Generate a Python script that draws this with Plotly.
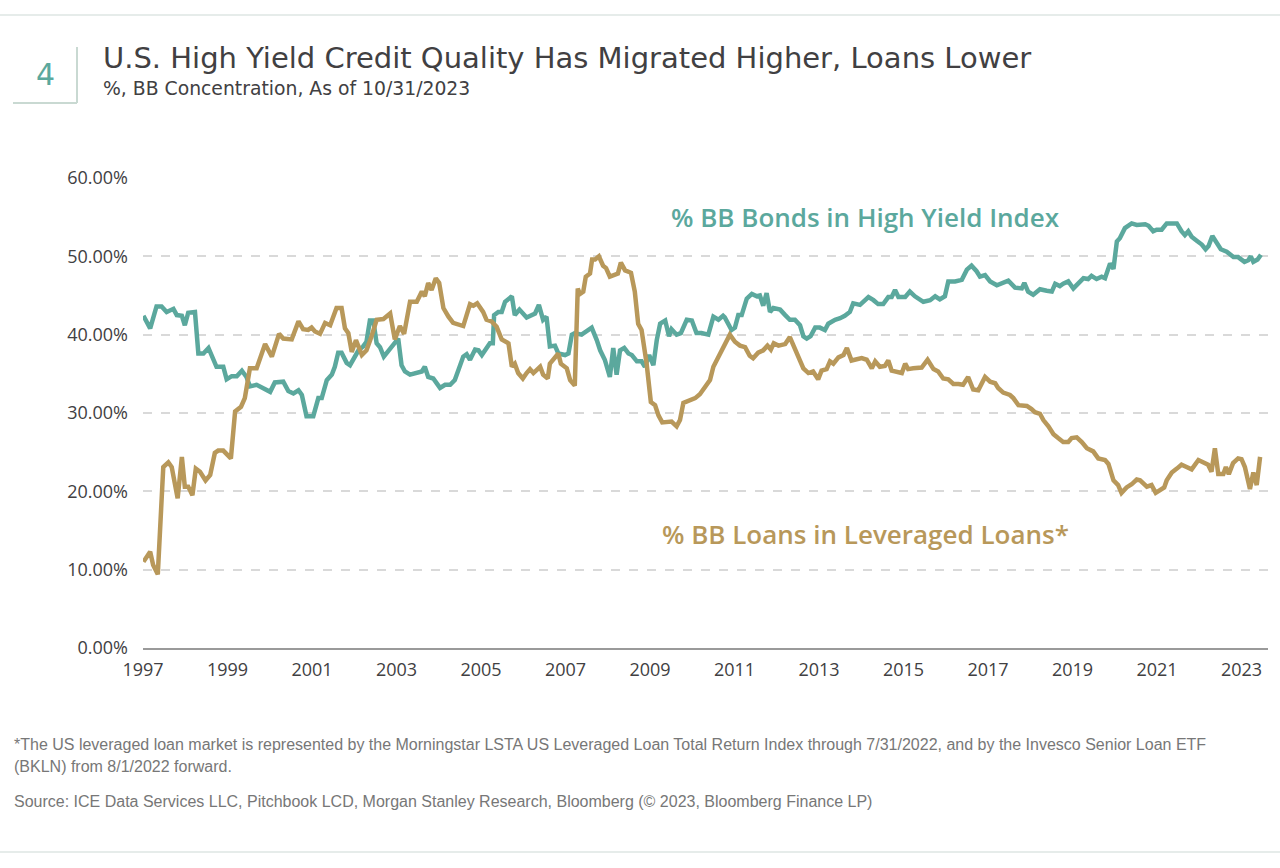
import plotly.graph_objects as go

# ---------------- data ----------------
hy_bb_years = [1997.01, 1997.17, 1997.32, 1997.44, 1997.56, 1997.72, 1997.80, 1997.92, 1997.99, 1998.07,
               1998.23, 1998.31, 1998.43, 1998.55, 1998.74, 1998.90, 1998.98, 1999.10, 1999.22, 1999.34,
               1999.45, 1999.53, 1999.69, 1999.85, 2000.01, 2000.12, 2000.32, 2000.44, 2000.56, 2000.68,
               2000.76, 2000.87, 2001.03, 2001.15, 2001.23, 2001.35, 2001.47, 2001.54, 2001.62, 2001.70,
               2001.82, 2001.90, 2002.02, 2002.10, 2002.21, 2002.29, 2002.37, 2002.45, 2002.53, 2002.61,
               2002.70, 2002.81, 2002.96, 2003.04, 2003.12, 2003.20, 2003.32, 2003.48, 2003.60, 2003.67,
               2003.75, 2003.87, 2004.03, 2004.15, 2004.27, 2004.38, 2004.50, 2004.58, 2004.66, 2004.74,
               2004.86, 2004.94, 2005.02, 2005.13, 2005.21, 2005.28, 2005.31, 2005.41, 2005.49, 2005.57,
               2005.73, 2005.80, 2005.91, 2006.08, 2006.16, 2006.28, 2006.37, 2006.47, 2006.55, 2006.63,
               2006.75, 2006.83, 2006.99, 2007.07, 2007.15, 2007.22, 2007.38, 2007.50, 2007.62, 2007.74,
               2007.82, 2007.93, 2008.05, 2008.13, 2008.21, 2008.29, 2008.39, 2008.49, 2008.57, 2008.69,
               2008.80, 2008.88, 2008.98, 2009.08, 2009.16, 2009.24, 2009.36, 2009.45, 2009.51, 2009.63,
               2009.73, 2009.87, 2009.99, 2010.10, 2010.22, 2010.38, 2010.50, 2010.62, 2010.73, 2010.77,
               2010.93, 2011.01, 2011.09, 2011.17, 2011.29, 2011.41, 2011.53, 2011.60, 2011.68, 2011.76,
               2011.84, 2011.92, 2012.08, 2012.20, 2012.31, 2012.43, 2012.55, 2012.63, 2012.71, 2012.80,
               2012.91, 2013.02, 2013.14, 2013.22, 2013.38, 2013.50, 2013.61, 2013.73, 2013.81, 2013.97,
               2014.17, 2014.29, 2014.40, 2014.52, 2014.64, 2014.72, 2014.80, 2014.88, 2015.04, 2015.15,
               2015.27, 2015.47, 2015.63, 2015.75, 2015.86, 2015.98, 2016.06, 2016.22, 2016.38, 2016.50,
               2016.61, 2016.73, 2016.81, 2016.93, 2017.05, 2017.21, 2017.32, 2017.48, 2017.64, 2017.80,
               2017.86, 2017.95, 2018.07, 2018.23, 2018.39, 2018.51, 2018.59, 2018.70, 2018.78, 2018.90,
               2019.02, 2019.14, 2019.26, 2019.37, 2019.45, 2019.57, 2019.69, 2019.77, 2019.89, 2019.97,
               2020.05, 2020.12, 2020.24, 2020.40, 2020.52, 2020.72, 2020.80, 2020.91, 2020.99, 2021.11,
               2021.23, 2021.35, 2021.47, 2021.58, 2021.66, 2021.74, 2021.82, 2021.94, 2022.06, 2022.15,
               2022.22, 2022.31, 2022.39, 2022.51, 2022.65, 2022.81, 2022.92, 2023.07, 2023.16, 2023.22,
               2023.28, 2023.38, 2023.46]
hy_bb_pct = [42.4, 40.8, 43.6, 43.6, 42.9, 43.3, 42.5, 42.4, 41.2, 42.8,
             42.9, 37.6, 37.6, 38.3, 35.9, 35.9, 34.3, 34.7, 34.7, 35.4,
             34.6, 33.4, 33.6, 33.2, 32.7, 33.9, 34.0, 32.8, 32.5, 32.9,
             32.3, 29.6, 29.6, 31.9, 31.9, 34.2, 34.9, 35.9, 37.7, 37.7,
             36.4, 36.1, 37.4, 38.0, 38.5, 39.1, 41.8, 41.8, 38.9, 38.4,
             37.2, 38.0, 39.1, 39.5, 36.1, 35.3, 34.9, 35.1, 35.3, 35.9,
             34.6, 34.4, 33.2, 33.6, 33.6, 34.2, 36.1, 37.2, 37.5, 36.8,
             38.1, 38.0, 37.4, 38.3, 38.9, 38.9, 42.5, 42.9, 42.9, 44.2,
             44.9, 42.5, 43.2, 42.2, 42.4, 42.7, 43.8, 41.9, 42.3, 38.5,
             38.6, 37.6, 37.4, 37.6, 40.0, 40.2, 40.0, 40.4, 40.9, 39.3,
             38.0, 36.8, 34.6, 38.3, 34.9, 38.0, 38.3, 37.6, 37.4, 36.6,
             36.6, 35.9, 37.4, 36.1, 39.3, 41.4, 41.8, 39.8, 40.7, 40.0,
             40.2, 41.9, 41.8, 40.2, 40.2, 40.0, 42.3, 41.9, 42.4, 42.2,
             40.6, 40.9, 42.5, 42.5, 44.6, 45.2, 44.9, 45.0, 43.7, 45.3,
             42.9, 43.4, 43.2, 42.5, 41.9, 41.9, 41.2, 39.8, 39.5, 39.8,
             40.9, 40.9, 40.6, 41.4, 41.9, 42.1, 42.4, 42.9, 44.0, 43.8,
             44.8, 44.4, 43.9, 43.9, 44.8, 44.8, 45.7, 44.8, 44.8, 45.5,
             44.9, 44.2, 44.4, 44.9, 44.5, 44.9, 46.8, 46.8, 47.0, 48.3,
             48.8, 48.1, 47.4, 47.6, 46.8, 46.3, 46.6, 46.9, 46.0, 45.9,
             46.6, 45.5, 45.1, 45.8, 45.6, 45.5, 46.5, 46.2, 46.5, 46.8,
             45.9, 46.6, 47.2, 47.1, 47.5, 47.1, 47.4, 47.2, 49.1, 48.4,
             51.9, 52.3, 53.6, 54.2, 54.0, 54.1, 53.9, 53.2, 53.4, 53.4,
             54.2, 54.2, 54.2, 53.2, 52.7, 53.2, 52.5, 52.0, 51.5, 50.9,
             51.3, 52.6, 52.0, 50.9, 50.6, 49.9, 49.9, 49.3, 49.5, 50.0,
             49.3, 49.6, 50.2]

loan_bb_years = [1997.01, 1997.17, 1997.24, 1997.35, 1997.48, 1997.60, 1997.68, 1997.82, 1997.92, 1997.99,
                 1998.07, 1998.17, 1998.25, 1998.35, 1998.48, 1998.59, 1998.70, 1998.78, 1998.90, 1999.08,
                 1999.18, 1999.32, 1999.41, 1999.53, 1999.69, 1999.89, 2000.05, 2000.22, 2000.32, 2000.52,
                 2000.68, 2000.79, 2000.91, 2000.99, 2001.07, 2001.19, 2001.31, 2001.43, 2001.58, 2001.70,
                 2001.78, 2001.86, 2001.94, 2002.04, 2002.18, 2002.29, 2002.41, 2002.53, 2002.69, 2002.85,
                 2002.96, 2003.08, 2003.18, 2003.32, 2003.48, 2003.60, 2003.67, 2003.75, 2003.83, 2003.93,
                 2004.01, 2004.11, 2004.23, 2004.34, 2004.58, 2004.74, 2004.82, 2004.91, 2005.05, 2005.13,
                 2005.25, 2005.37, 2005.49, 2005.65, 2005.73, 2005.80, 2005.88, 2005.99, 2006.08, 2006.16,
                 2006.24, 2006.40, 2006.47, 2006.58, 2006.63, 2006.75, 2006.83, 2006.89, 2007.03, 2007.11,
                 2007.22, 2007.29, 2007.34, 2007.42, 2007.48, 2007.58, 2007.63, 2007.70, 2007.79, 2007.89,
                 2007.96, 2008.05, 2008.15, 2008.24, 2008.31, 2008.41, 2008.55, 2008.64, 2008.72, 2008.80,
                 2008.92, 2009.02, 2009.12, 2009.20, 2009.29, 2009.40, 2009.51, 2009.63, 2009.71, 2009.79,
                 2009.95, 2010.07, 2010.18, 2010.30, 2010.42, 2010.50, 2010.62, 2010.73, 2010.89, 2011.01,
                 2011.13, 2011.25, 2011.36, 2011.44, 2011.56, 2011.68, 2011.78, 2011.86, 2011.93, 2012.04,
                 2012.20, 2012.31, 2012.39, 2012.51, 2012.63, 2012.75, 2012.86, 2012.98, 2013.06, 2013.18,
                 2013.26, 2013.34, 2013.46, 2013.58, 2013.66, 2013.77, 2013.89, 2014.01, 2014.13, 2014.25,
                 2014.33, 2014.44, 2014.56, 2014.64, 2014.72, 2014.84, 2014.96, 2015.04, 2015.11, 2015.23,
                 2015.43, 2015.57, 2015.71, 2015.82, 2015.94, 2016.06, 2016.18, 2016.30, 2016.41, 2016.53,
                 2016.65, 2016.77, 2016.93, 2017.05, 2017.17, 2017.24, 2017.36, 2017.52, 2017.60, 2017.72,
                 2017.92, 2018.03, 2018.11, 2018.23, 2018.31, 2018.43, 2018.55, 2018.66, 2018.78, 2018.90,
                 2018.98, 2019.10, 2019.22, 2019.34, 2019.49, 2019.61, 2019.77, 2019.85, 2019.97, 2020.08,
                 2020.16, 2020.28, 2020.40, 2020.52, 2020.60, 2020.76, 2020.87, 2020.97, 2021.09, 2021.17,
                 2021.23, 2021.35, 2021.47, 2021.58, 2021.70, 2021.82, 2021.98, 2022.10, 2022.21, 2022.29,
                 2022.37, 2022.45, 2022.57, 2022.63, 2022.70, 2022.80, 2022.92, 2023.00, 2023.08, 2023.20,
                 2023.28, 2023.36, 2023.44]
loan_bb_pct = [11.0, 12.3, 10.6, 9.4, 23.1, 23.7, 23.1, 19.1, 24.4, 20.6,
               20.6, 19.5, 22.9, 22.5, 21.4, 22.1, 24.9, 25.2, 25.2, 24.2,
               30.2, 30.8, 31.9, 35.7, 35.7, 38.8, 37.2, 40.1, 39.5, 39.4,
               41.7, 40.7, 40.6, 40.9, 40.4, 40.1, 41.5, 41.2, 43.4, 43.4,
               40.8, 40.2, 37.8, 39.3, 37.4, 38.0, 39.8, 41.9, 42.0, 42.7,
               39.4, 41.1, 40.1, 44.2, 44.2, 45.5, 44.9, 46.6, 45.7, 47.2,
               46.6, 43.4, 42.3, 41.5, 41.1, 43.9, 43.7, 44.0, 42.9, 41.9,
               41.7, 41.0, 39.4, 38.9, 35.9, 36.3, 35.1, 34.4, 35.1, 35.6,
               35.1, 35.9, 34.9, 34.4, 36.3, 37.2, 37.6, 36.3, 35.7, 34.2,
               33.5, 45.9, 45.2, 45.5, 47.4, 47.8, 49.6, 49.6, 50.0, 48.8,
               48.5, 47.4, 47.6, 47.8, 49.2, 48.2, 47.9, 45.5, 41.4, 40.6,
               36.3, 31.4, 31.0, 29.7, 28.8, 28.9, 28.9, 28.3, 29.1, 31.3,
               31.6, 31.9, 32.4, 33.4, 34.2, 35.9, 37.2, 38.4, 40.0, 39.1,
               38.6, 38.4, 37.3, 37.0, 37.7, 38.0, 38.6, 38.1, 38.9, 38.6,
               38.8, 39.7, 38.7, 37.2, 35.7, 35.1, 35.3, 34.3, 35.4, 35.6,
               36.6, 36.3, 37.1, 37.4, 38.3, 36.7, 36.9, 37.0, 36.8, 35.7,
               36.6, 35.9, 36.0, 36.7, 35.4, 35.3, 35.1, 36.3, 35.6, 35.7,
               35.8, 36.8, 35.6, 35.3, 34.4, 34.3, 33.7, 33.7, 33.6, 34.6,
               33.0, 32.9, 34.6, 34.0, 33.8, 33.2, 32.6, 32.3, 31.9, 31.0,
               30.9, 30.5, 30.1, 29.9, 29.1, 28.3, 27.3, 26.8, 26.3, 26.3,
               26.8, 26.9, 26.3, 25.5, 25.1, 24.2, 24.0, 23.5, 21.4, 20.8,
               19.8, 20.5, 20.9, 21.5, 21.4, 20.6, 20.8, 19.8, 20.3, 20.5,
               21.4, 22.4, 22.9, 23.4, 23.1, 22.8, 24.0, 23.7, 23.4, 22.5,
               25.5, 22.2, 22.2, 23.1, 22.2, 23.6, 24.2, 24.1, 23.1, 20.3,
               22.4, 20.8, 24.4]

year_ticks = list(range(1997, 2024, 2))
pct_ticks = [0, 10, 20, 30, 40, 50, 60]

title_text = "U.S. High Yield Credit Quality Has Migrated Higher, Loans Lower"
subtitle_text = "%, BB Concentration, As of 10/31/2023"
bond_label = "% BB Bonds in High Yield Index"
loan_label = "% BB Loans in Leveraged Loans*"
note1 = ("*The US leveraged loan market is represented by the Morningstar LSTA US Leveraged Loan Total "
         "Return Index through 7/31/2022, and by the Invesco Senior Loan ETF")
note2 = "(BKLN) from 8/1/2022 forward."
source_text = ("Source: ICE Data Services LLC, Pitchbook LCD, Morgan Stanley Research, Bloomberg "
               "(© 2023, Bloomberg Finance LP)")

# ---------------- styling ----------------
TEAL = "#5BA89D"
GOLD = "#B8985A"
DARK = "#414042"
FONT = "Open Sans"
HEAD = "DejaVu Sans"
NOTE_FONT = "Liberation Sans Narrow, Arial Narrow, Liberation Sans, Arial"

W, H = 1280, 868
L, R, T, B = 143, 12, 178, 220
PW, PH = W - L - R, H - T - B


def px(x):
    return (x - L) / PW


def py(y):
    return (H - B - y) / PH


fig = go.Figure()
fig.add_trace(go.Scatter(x=hy_bb_years, y=hy_bb_pct, mode="lines",
                         line=dict(color=TEAL, width=4.5), name=bond_label))
fig.add_trace(go.Scatter(x=loan_bb_years, y=loan_bb_pct, mode="lines",
                         line=dict(color=GOLD, width=4.5), name=loan_label))

annotations = [
    dict(x=2014.1, y=55.0, xref="x", yref="y", text=bond_label, showarrow=False,
         font=dict(family=FONT, size=26, color=TEAL, weight=600), xanchor="center", yanchor="middle"),
    dict(x=2014.1, y=14.55, xref="x", yref="y", text=loan_label, showarrow=False,
         font=dict(family=FONT, size=26, color=GOLD, weight=600), xanchor="center", yanchor="middle"),
    dict(x=px(101), y=py(58), xref="paper", yref="paper", text=title_text, showarrow=False,
         font=dict(family=HEAD, size=29, color=DARK), xanchor="left", yanchor="middle"),
    dict(x=px(101), y=py(89), xref="paper", yref="paper", text=subtitle_text, showarrow=False,
         font=dict(family=HEAD, size=18.8, color=DARK), xanchor="left", yanchor="middle"),
    dict(x=px(45), y=py(75), xref="paper", yref="paper", text="4", showarrow=False,
         font=dict(family=HEAD, size=30, color=TEAL), xanchor="center", yanchor="middle"),
    dict(x=px(12), y=py(744), xref="paper", yref="paper", text=note1, showarrow=False,
         font=dict(family=NOTE_FONT, size=16, color="#777777"), xanchor="left", yanchor="middle"),
    dict(x=px(12), y=py(767), xref="paper", yref="paper", text=note2, showarrow=False,
         font=dict(family=NOTE_FONT, size=16, color="#777777"), xanchor="left", yanchor="middle"),
    dict(x=px(12), y=py(801), xref="paper", yref="paper", text=source_text, showarrow=False,
         font=dict(family=NOTE_FONT, size=16, color="#777777"), xanchor="left", yanchor="middle"),
]

shapes = [
    dict(type="line", xref="paper", yref="paper", x0=px(0), x1=px(W), y0=py(15), y1=py(15),
         line=dict(color="#E6ECEA", width=2)),
    dict(type="line", xref="paper", yref="paper", x0=px(0), x1=px(W), y0=py(852), y1=py(852),
         line=dict(color="#E6ECEA", width=2)),
    dict(type="line", xref="paper", yref="paper", x0=px(77), x1=px(77), y0=py(47), y1=py(103),
         line=dict(color="#C9D9D2", width=2)),
    dict(type="line", xref="paper", yref="paper", x0=px(13), x1=px(77), y0=py(103), y1=py(103),
         line=dict(color="#C9D9D2", width=2)),
]

fig.update_layout(
    width=W, height=H,
    margin=dict(l=L, r=R, t=T, b=B),
    paper_bgcolor="white", plot_bgcolor="white",
    showlegend=False,
    annotations=annotations, shapes=shapes,
    xaxis=dict(range=[1997, 1997 + 1125 / 42.25], tickmode="array", tickvals=year_ticks,
               ticktext=[str(y) for y in year_ticks], showgrid=False, zeroline=False,
               showline=True, linecolor="#9A9A9A", linewidth=2, ticks="",
               ticklabelstandoff=4, tickfont=dict(family=FONT, size=18, color=DARK)),
    yaxis=dict(range=[0, 60], tickmode="array", tickvals=pct_ticks,
               ticktext=[f"{v:.2f}%" for v in pct_ticks], showgrid=True, gridcolor="#D9D9D9",
               griddash="dash", gridwidth=1.5, zeroline=False, showline=False, ticks="",
               ticklabelstandoff=14, tickfont=dict(family=FONT, size=18, color=DARK)),
)

fig.write_html("out.html", config={"displayModeBar": False},
               post_script="document.body.style.margin='0';")
